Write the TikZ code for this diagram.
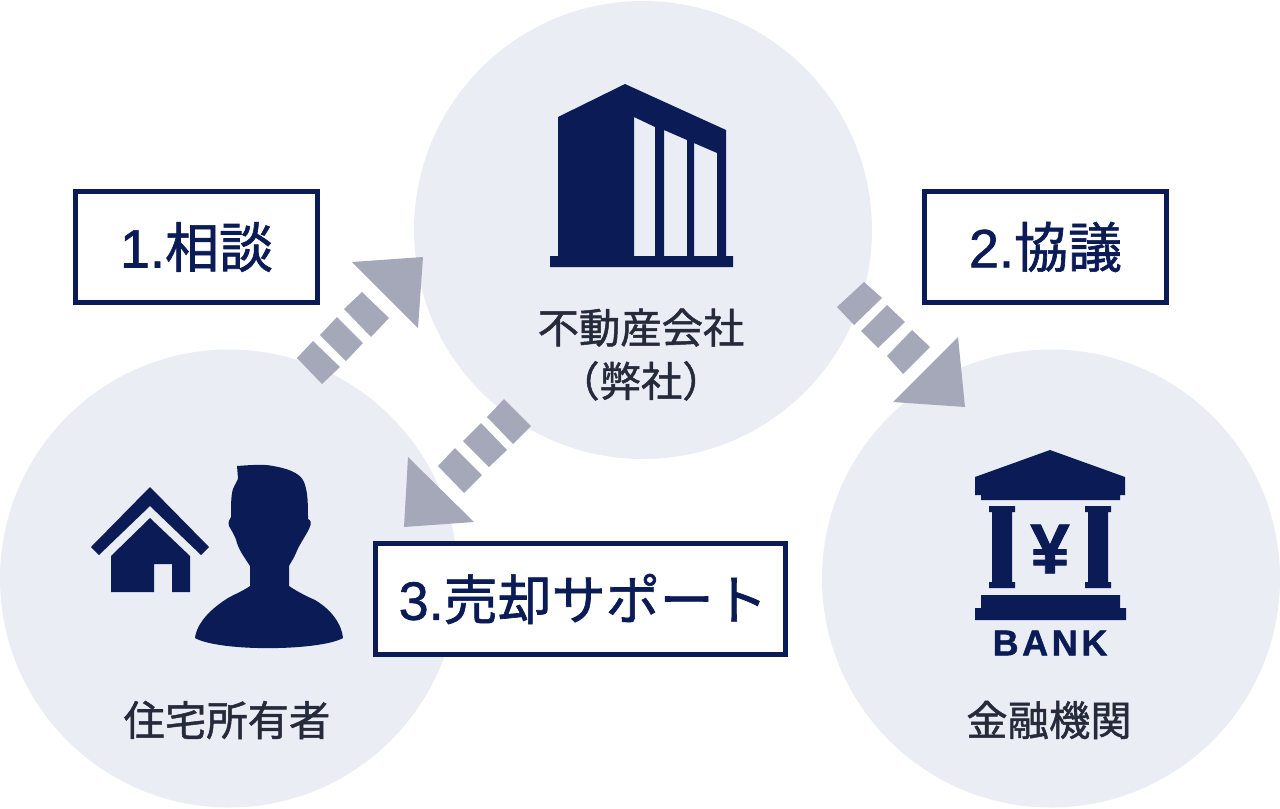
\documentclass[tikz,border=0pt]{standalone}
\usepackage{fontspec}
\setmainfont{Noto Sans CJK JP}[FakeBold=1.2]
\newfontfamily\lat{Liberation Sans}[FakeBold=1.2]
\newfontfamily\latb{Liberation Sans Bold}[FakeBold=1.2]
\definecolor{navy}{HTML}{0A1B55}
\definecolor{disc}{HTML}{EBEDF4}
\definecolor{arrowgrey}{HTML}{A5A8B8}
\definecolor{labelink}{HTML}{262B3C}
\tikzset{
  px/.style={x=0.75pt,y=-0.75pt},
  discnode/.style={circle,fill=disc,minimum size=343.5pt,inner sep=0pt},
  stepbox/.style={draw=navy,line width=3.6pt,fill=white,inner sep=0pt,text=navy,font=\fontsize{40.5}{40.5}\selectfont},
  caption/.style={text=labelink,font=\fontsize{31}{40}\selectfont,align=center,inner sep=0pt},
  icon/.style={fill=navy,draw=none},
  flow/.style={fill=arrowgrey,draw=none},
}
\begin{document}
\begin{tikzpicture}[px]
\useasboundingbox (0,0) rectangle (1280,808);
\node[discnode] (top) at (643,230) {};
\node[discnode] (left) at (229,578.5) {};
\node[discnode] (right) at (1051,578.5) {};
% arrow 1
\fill[flow] (313,341)--(340,367)--(322,384)--(297,358)--cycle;
\fill[flow] (337,317)--(363,343)--(346,361)--(320,335)--cycle;
\fill[flow] (362,292)--(389,318)--(371,337)--(344,309)--cycle;
\fill[flow] (352,262)--(423,257)--(418,328)--cycle;
% arrow 3
\fill[flow] (455,448)--(482,475)--(464,493)--(438,466)--cycle;
\fill[flow] (481,423)--(507,450)--(489,467)--(463,441)--cycle;
\fill[flow] (504,399)--(531,426)--(513,444)--(487,417)--cycle;
\fill[flow] (408,457)--(474,522)--(404,527)--cycle;
% arrow 2
\fill[flow] (864,282)--(882,298)--(854,325)--(837,307)--cycle;
\fill[flow] (887,305)--(905,322)--(878,348)--(861,331)--cycle;
\fill[flow] (912,330)--(930,347)--(903,374)--(887,356)--cycle;
\fill[flow] (958,337)--(965,407)--(893,402)--cycle;
% building
\fill[icon,even odd rule] (558,117)--(625,84)--(726,130)--(726,256)--(733,256)--(733,267)--(550,267)--(550,256)--(558,256)--cycle
 (634,117)--(655,127)--(655,256)--(634,256)--cycle
 (664,130)--(687,140)--(687,256)--(664,256)--cycle
 (694,143)--(717,153)--(717,256)--(694,256)--cycle;
% house
\fill[icon] (150,487)--(209,547)--(201,555)--(150,506)--(99,555)--(91,547)--cycle;
\fill[icon] (150,518)--(190,556)--(190,592)--(172,592)--(172,564)--(154,564)--(154,592)--(111,592)--(111,556)--cycle;
% person
\fill[icon] (237,466) .. controls (250,465) and (265,464) .. (273,466)
 .. controls (285,468) and (300,472) .. (304,482)
 .. controls (308,492) and (308,505) .. (308,519)
 .. controls (311,520) and (312,523) .. (309,529)
 .. controls (305,537) and (299,545) .. (296,553)
 .. controls (294,558) and (291,562) .. (289,566)
 --(289,586) .. controls (298,592) and (306,596) .. (315,600)
 .. controls (332,610) and (342,625) .. (343,638)
 .. controls (320,651) and (220,652) .. (195,638)
 .. controls (197,622) and (212,608) .. (228,598)
 .. controls (235,594) and (243,591) .. (250,586)
 --(250,566) .. controls (245,558) and (240,552) .. (237,543)
 .. controls (235,535) and (231,530) .. (229,526)
 .. controls (228,522) and (229,520) .. (231,517)
 .. controls (231,505) and (231,495) .. (233,489)
 .. controls (235,484) and (238,480) .. (238,478)--cycle;
% bank
\fill[icon] (1050,450)--(1125,477)--(1125,495)--(1120,495)--(1120,500)--(981,500)--(981,495)--(975,495)--(975,477)--cycle;
\fill[icon] (989,506)--(1015,506)--(1015,512)--(1012,512)--(1012,582)--(1015,582)--(1015,588)--(989,588)--(989,582)--(992,582)--(992,512)--(989,512)--cycle;
\fill[icon] (1085,506)--(1111,506)--(1111,512)--(1108,512)--(1108,582)--(1111,582)--(1111,588)--(1085,588)--(1085,582)--(1088,582)--(1088,512)--(1085,512)--cycle;
\fill[icon] (981,595)--(1120,595)--(1120,608)--(1126,608)--(1126,620)--(975,620)--(975,608)--(981,608)--cycle;
\node[text=navy,inner sep=0pt,font=\latb\fontsize{53}{53}\selectfont] (yen) at (1050,549) {¥};
\node[text=navy,inner sep=0pt,font={\latb\addfontfeature{LetterSpace=10}\fontsize{27}{27}\selectfont}] (bank) at (1050,643) {BANK};
% boxes
\node[stepbox,minimum width=181.5pt,minimum height=83pt] (s1) at (196.5,247) {\lat 1.\rmfamily 相談};
\node[stepbox,minimum width=181.5pt,minimum height=83pt] (s2) at (1045.5,247) {\lat 2.\rmfamily 協議};
\node[stepbox,minimum width=307.5pt,minimum height=83pt] (s3) at (580.5,599) {\hspace{4pt}\lat 3.\rmfamily 売却サポート};
% captions
\node[caption] (c1) at (641,354.5) {不動産会社\\（弊社）};
\node[caption] (c2) at (227,720) {住宅所有者};
\node[caption] (c3) at (1049,720) {金融機関};
\end{tikzpicture}
\end{document}
